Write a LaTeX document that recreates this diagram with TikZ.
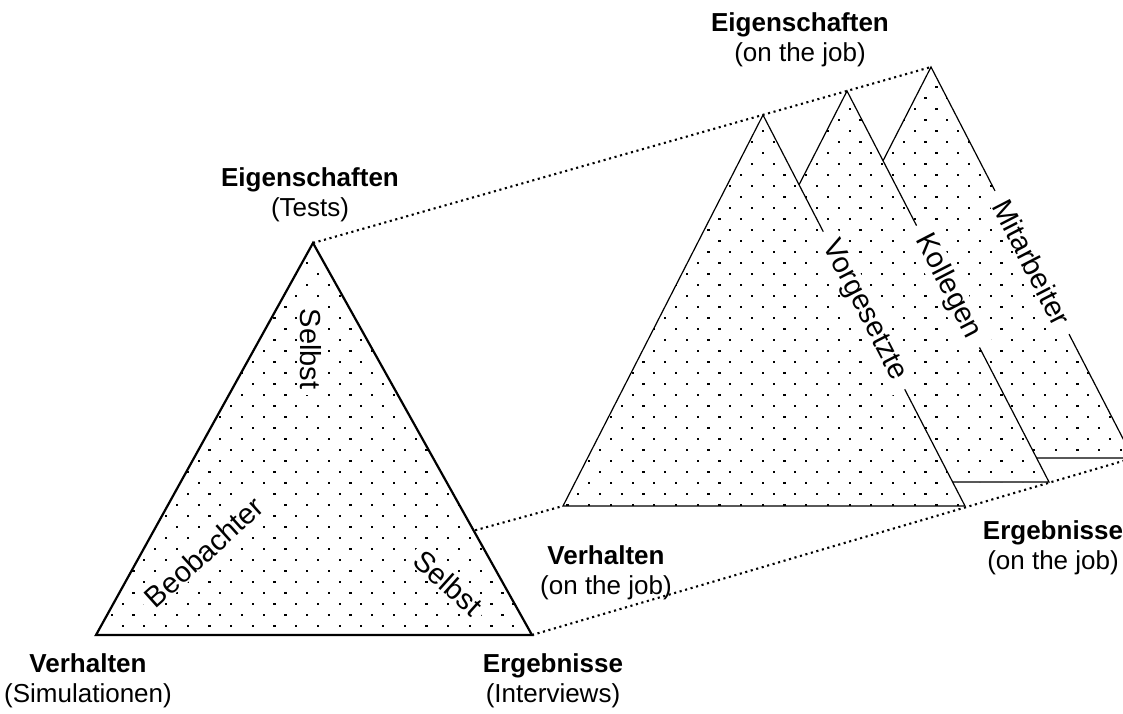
\documentclass[tikz,border=0pt]{standalone}
\usepackage{fontspec}
\setmainfont{Liberation Sans}
\newcommand\dotfield[4]{%
  \foreach \j in {#3,...,#4}{%
    \pgfmathsetmacro\dyy{11*\j-1}%
    \pgfmathsetmacro\dxx{3.2+mod(\j,2)*10.85}%
    \foreach \i in {#1,...,#2}{%
      \fill ({\dxx+21.7*\i-1},{\dyy-1}) rectangle ++(2.2,2.2);%
    }}}
\tikzset{
  cornerlabel/.style={align=center, inner sep=0pt, font=\fontsize{26}{30}\selectfont},
  innerlabel/.style={fill=white, inner xsep=6pt, inner ysep=1pt, font=\fontsize{29}{34}\selectfont},
  edgelabel/.style={fill=white, inner xsep=12pt, inner ysep=1pt, font=\fontsize{29}{34}\selectfont},
  guide/.style={line width=2.1pt, dash pattern=on 2.1pt off 3.6pt},
  mainedge/.style={line width=2.2pt, line join=miter},
  sideedge/.style={line width=1.2pt, line join=miter},
}
\begin{document}
\begin{tikzpicture}[x=1pt,y=-1pt]
\useasboundingbox (0,0) rectangle (1123,713);
% corner points
\coordinate (LA) at (313,243);
\coordinate (LB) at (96,635);
\coordinate (LC) at (532,635);
\coordinate (VA) at (763,115);
\coordinate (VB) at (563,506);
\coordinate (VC) at (965,506);
\coordinate (KA) at (847,91);
\coordinate (KB) at (647,482);
\coordinate (KC) at (1049,482);
\coordinate (MA) at (931,67);
\coordinate (MB) at (731,458);
\coordinate (MC) at (1133,458);
% guide lines
\draw[guide] (LA) -- (MA);
\draw[guide] (LB) -- (VB);
\draw[guide] (LC) -- (MC);
% Mitarbeiter
\fill[white] (MA) -- (MB) -- (MC) -- cycle;
\begin{scope}
  \clip (MA) -- (MB) -- (MC) -- cycle;
  \dotfield{33}{52}{6}{42}
\end{scope}
\draw[sideedge] (MA) -- (MB) -- (MC) -- cycle;
\path (MA) -- (MC) node[edgelabel, midway, sloped] (mit) {Mitarbeiter};
% Kollegen
\fill[white] (KA) -- (KB) -- (KC) -- cycle;
\begin{scope}
  \clip (KA) -- (KB) -- (KC) -- cycle;
  \dotfield{29}{49}{8}{44}
\end{scope}
\draw[sideedge] (KA) -- (KB) -- (KC) -- cycle;
\path (KA) -- (KC) node[edgelabel, midway, sloped] (kol) {Kollegen};
% Vorgesetzte
\fill[white] (VA) -- (VB) -- (VC) -- cycle;
\begin{scope}
  \clip (VA) -- (VB) -- (VC) -- cycle;
  \dotfield{25}{45}{10}{46}
\end{scope}
\draw[sideedge] (VA) -- (VB) -- (VC) -- cycle;
\path (VA) -- (VC) node[edgelabel, midway, sloped] (vor) {Vorgesetzte};
% left triangle
\fill[white] (LA) -- (LB) -- (LC) -- cycle;
\begin{scope}
  \clip (LA) -- (LB) -- (LC) -- cycle;
  \dotfield{4}{25}{22}{58}
\end{scope}
\draw[mainedge] (LA) -- (LB) -- (LC) -- cycle;
\node[innerlabel, rotate=-90] (selbst1) at (311,349) {Selbst};
\node[innerlabel, rotate=42] (beob) at (204,552) {Beobachter};
\node[innerlabel, rotate=-42] (selbst2) at (448,583) {Selbst};
% corner labels
\node[cornerlabel] (eigjob) at (800,40) {\textbf{Eigenschaften}\\(on the job)};
\node[cornerlabel] (eigtest) at (310,195) {\textbf{Eigenschaften}\\(Tests)};
\node[cornerlabel] (versim) at (88,681) {\textbf{Verhalten}\\(Simulationen)};
\node[cornerlabel] (ergint) at (553,681) {\textbf{Ergebnisse}\\(Interviews)};
\node[cornerlabel] (verjob) at (606,573) {\textbf{Verhalten}\\(on the job)};
\node[cornerlabel] (ergjob) at (1053,548) {\textbf{Ergebnisse}\\(on the job)};
\end{tikzpicture}
\end{document}
